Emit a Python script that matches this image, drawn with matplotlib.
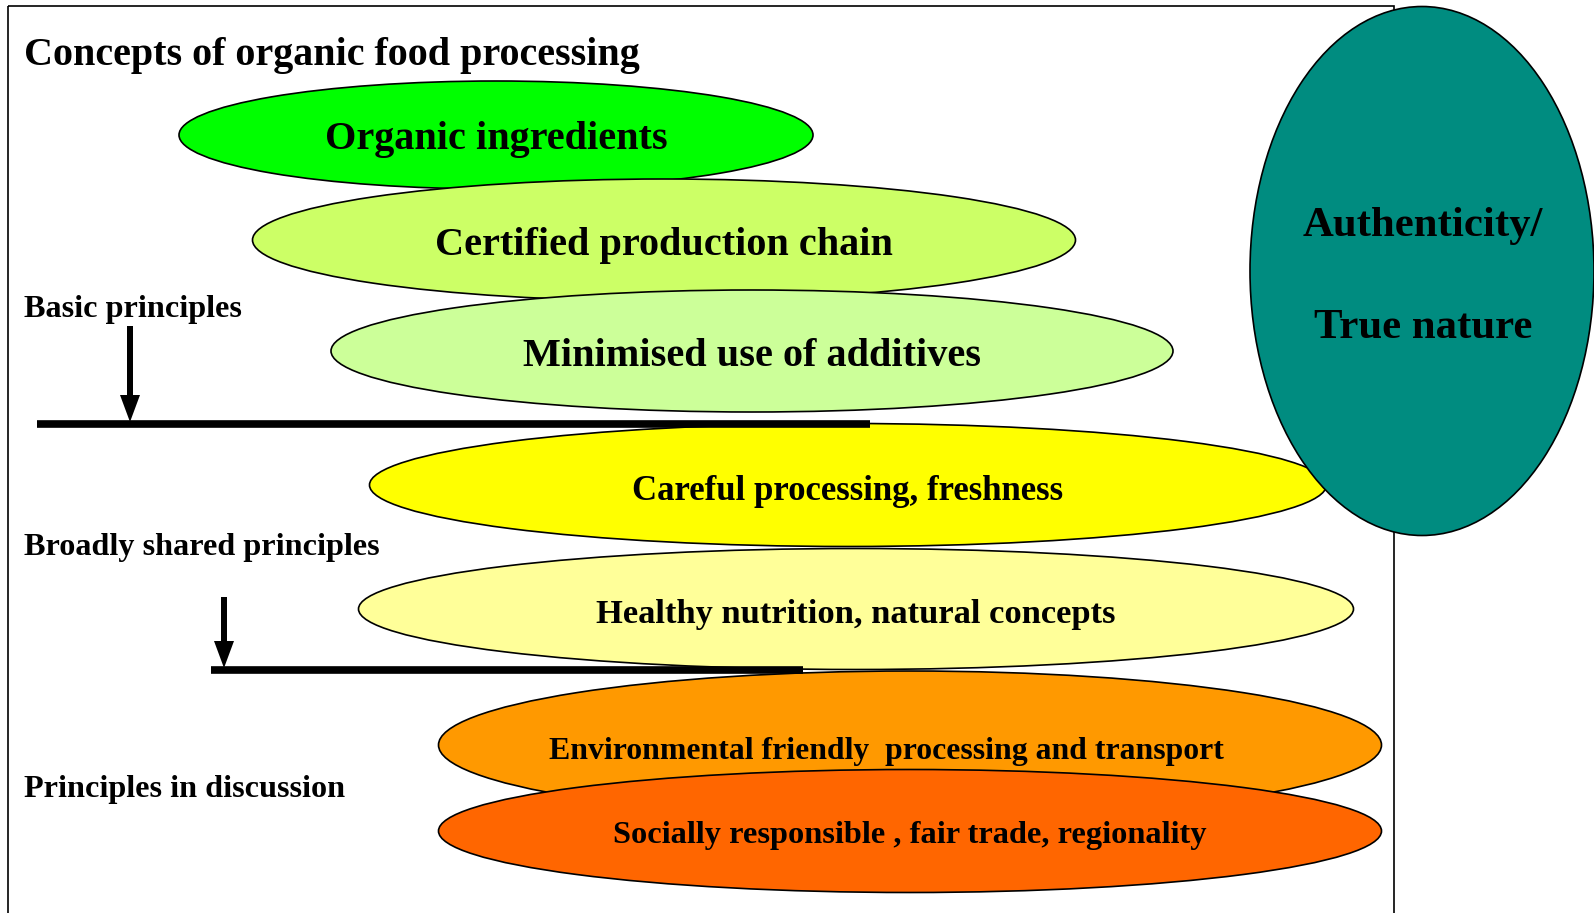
import matplotlib.pyplot as plt
from matplotlib.patches import Ellipse, Rectangle

plt.rcParams['font.family'] = ['Liberation Serif', 'DejaVu Serif']
plt.rcParams['font.weight'] = 'bold'

# concept ellipses, top to bottom
labels = ['Organic ingredients', 'Certified production chain',
          'Minimised use of additives', 'Careful processing, freshness',
          'Healthy nutrition, natural concepts',
          'Environmental friendly  processing and transport',
          'Socially responsible , fair trade, regionality']
colors = ['#00FF00', '#CCFF66', '#CCFF99', '#FFFF00', '#FFFF99',
          '#FF9900', '#FF6600']
cx = [496, 664, 752, 848, 856, 910, 910]
cy = [135, 240, 351, 485, 609, 745, 831]
widths = [634, 823, 842, 957, 995, 943, 943]
heights = [108, 122, 122, 123, 121, 148, 123]
text_x = [496, 664, 752, 848, 856, 886, 910]
text_y = [140, 246, 357, 492, 615, 752, 836]
text_size = [29, 29, 29, 25, 24.8, 22.9, 23.3]

# levels on the left side
level_labels = ['Basic principles', 'Broadly shared principles',
                'Principles in discussion']
level_y = [309, 547, 789]
sep_y = [424, 670]
sep_x = [(37, 870), (211, 803)]
arrow_x = [130, 224]
arrow_top = [326, 597]

fig = plt.figure(figsize=(15.94, 9.13), dpi=100)
ax = fig.add_axes([0, 0, 1, 1])
ax.set_xlim(0, 1594)
ax.set_ylim(913, 0)
ax.axis('off')

# outer frame
ax.add_patch(Rectangle((8, 6), 1386, 920, fill=False, lw=1.2,
                       ec='black', zorder=1))

ax.text(24, 56, 'Concepts of organic food processing', fontsize=28.9,
        ha='left', va='center', zorder=20)

for i in range(len(labels)):
    z = 2 + i
    ax.add_patch(Ellipse((cx[i], cy[i]), widths[i], heights[i],
                         fc=colors[i], ec='black', lw=1.2, zorder=z))
    ax.text(text_x[i], text_y[i], labels[i], fontsize=text_size[i],
            ha='center', va='center', zorder=z)

# separator lines and arrows
for i in range(2):
    ax.plot(sep_x[i], [sep_y[i], sep_y[i]], color='black', lw=5.5,
            solid_capstyle='butt', zorder=15)
    ax.arrow(arrow_x[i], arrow_top[i], 0, sep_y[i] - 2 - arrow_top[i],
             width=6, head_width=20, head_length=27,
             length_includes_head=True, fc='black', ec='black', lw=0,
             zorder=16)

for lab, y in zip(level_labels, level_y):
    ax.text(24, y, lab, fontsize=23.2, ha='left', va='center', zorder=20)

# authenticity ellipse on the right
ax.add_patch(Ellipse((1422, 271), 344, 529, fc='#008C80', ec='black',
                     lw=1.2, zorder=12))
ax.text(1423, 226, 'Authenticity/', fontsize=30.8, ha='center',
        va='center', zorder=13)
ax.text(1423, 328, 'True nature', fontsize=30.8, ha='center',
        va='center', zorder=13)

fig.savefig('out.png', dpi=100)
